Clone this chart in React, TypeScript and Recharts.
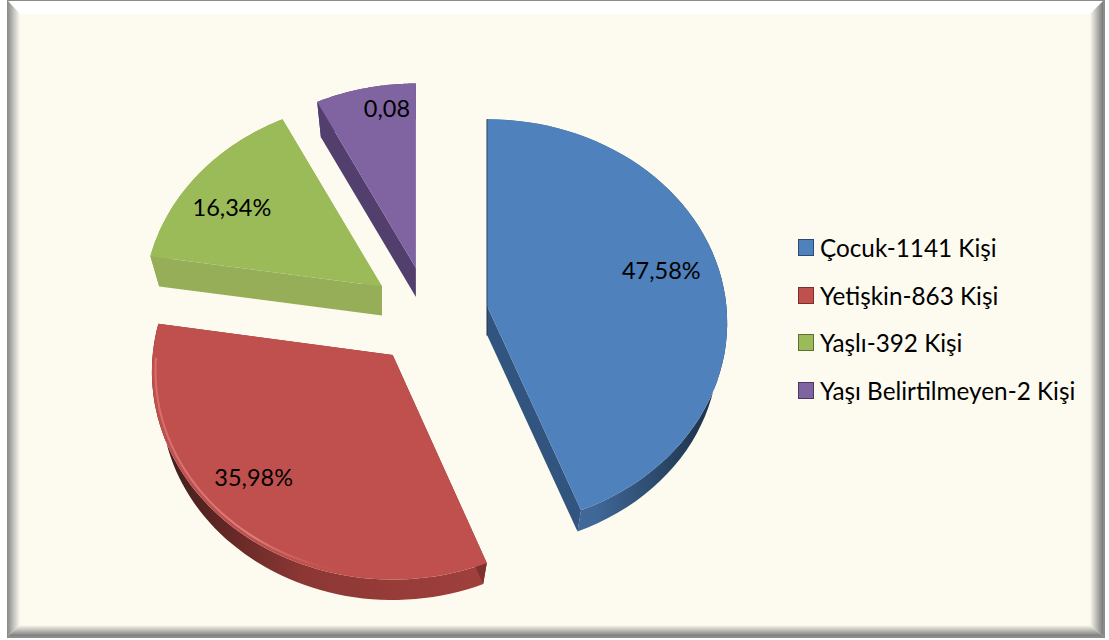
import React from 'react';
import { PieChart, Pie, Cell, Legend } from 'recharts';

const CATEGORIES = ['Çocuk-1141 Kişi', 'Yetişkin-863 Kişi', 'Yaşlı-392 Kişi', 'Yaşı Belirtilmeyen-2 Kişi'];
// the last slice is plotted far larger than its label says, same as the source chart
const PLOTTED_VALUES = [47.58, 35.98, 16.34, 8];
const VALUE_LABELS = ['47,58%', '35,98%', '16,34%', '0,08'];

const TOP_COLORS = ['#4F81BD', '#C0504D', '#9BBB59', '#8064A2'];
const LEGEND_BORDERS = ['#2B4A70', '#7A2F2D', '#5C7232', '#4A3863'];
const START_WALLS = ['#14202F', '#7E3230', '#96AE57', '#533F6E'];
const END_WALLS = ['#31557F', '#7E3230', '#96AE57', '#1E1729'];
const BG = '#FDFBF0';

// fake 3d: flat unit circle -> screen
const EXPLODE = 0.245;
const PERSPECTIVE = 0.081;
const SQUASH = 203 / 240;
const DEPTH = 29;
const BOTTOM_SCALE = 0.962;
const LABEL_OFFSETS = [
  [174, -36],
  [-139, 122],
  [-150, -80],
  [-29, -160],
];

type Pt = { x: number; y: number };

function toPath(points: Pt[], close = true) {
  return points.map((p, i) => `${i ? 'L' : 'M'}${p.x.toFixed(1)},${p.y.toFixed(1)}`).join(' ') + (close ? ' Z' : '');
}

function Slice3D(props: any) {
  const { cx, cy, outerRadius: r, startAngle, endAngle, index } = props;
  // recharts angles run counter clockwise from 3 o'clock
  const a0 = ((90 - startAngle) * Math.PI) / 180;
  const a1 = ((90 - endAngle) * Math.PI) / 180;
  const mid = (a0 + a1) / 2;
  const ox = EXPLODE * Math.sin(mid);
  const oy = -EXPLODE * Math.cos(mid);

  const apex = {
    x: cx + r * ox,
    y: cy + (r * SQUASH * oy) / (1 - PERSPECTIVE * oy),
  };
  const onRim = (a: number, scale = 1): Pt => {
    const ux = Math.sin(a) * scale;
    const uy = -Math.cos(a) * scale;
    return {
      x: apex.x + (r * ux) / (1 - PERSPECTIVE * (uy + Math.min(oy, 0))),
      y: apex.y + (r * SQUASH * uy) / (1 - PERSPECTIVE * (uy + oy)),
    };
  };
  const steps = 60;
  const arc: Pt[] = [];
  for (let i = 0; i <= steps; i++) arc.push(onRim(a0 + ((a1 - a0) * i) / steps));

  const lower = (p: Pt): Pt => ({
    x: apex.x + (p.x - apex.x) * BOTTOM_SCALE,
    y: apex.y + (p.y - apex.y) * BOTTOM_SCALE + DEPTH,
  });
  const arcLow = arc.map(lower);
  const apexLow = lower(apex);

  const rimPath = toPath([...arc, ...[...arcLow].reverse()]);
  const startWall = toPath([apex, arc[0], arcLow[0], apexLow]);
  const endWall = toPath([apex, arc[steps], arcLow[steps], apexLow]);
  const top = toPath([apex, ...arc]);
  const [dx, dy] = LABEL_OFFSETS[index];

  // bevel glint just inside the rim, only the red slice shows one in the source
  const glint: Pt[] = [];
  if (index === 1) {
    for (let i = 0; i <= 40; i++) {
      const a = a0 + (a1 - a0) * (0.25 + (0.67 * i) / 40);
      glint.push(onRim(a, 0.985));
    }
  }

  return (
    <g>
      <path d={rimPath} fill={`url(#rim${index})`} />
      <path d={startWall} fill={START_WALLS[index]} stroke={index === 0 ? START_WALLS[0] : 'none'} strokeWidth={1.5} />
      <path d={endWall} fill={END_WALLS[index]} />
      <path d={top} fill={TOP_COLORS[index]} />
      {glint.length > 0 && <path d={toPath(glint, false)} fill="none" stroke="url(#glint)" strokeWidth={2} />}
      <text
        x={apex.x + dx}
        y={apex.y + dy}
        textAnchor="middle"
        dominantBaseline="central"
        fontFamily="Lato, sans-serif"
        fontSize={23.5}
        fill="#000"
      >
        {VALUE_LABELS[index]}
      </text>
    </g>
  );
}

function LegendList() {
  return (
    <div style={{ fontFamily: 'Lato, sans-serif', fontSize: 24.3, color: '#000' }}>
      {CATEGORIES.map((name, i) => (
        <div key={name} style={{ display: 'flex', alignItems: 'center', height: 47.5, whiteSpace: 'nowrap' }}>
          <span
            style={{
              display: 'inline-block',
              width: 14,
              height: 15,
              marginRight: 6,
              background: TOP_COLORS[i],
              border: `1px solid ${LEGEND_BORDERS[i]}`,
            }}
          />
          {name}
        </div>
      ))}
    </div>
  );
}

function Frame() {
  const W = 1109;
  const H = 640;
  return (
    <g>
      <rect x={0} y={0} width={W} height={H} fill="#fff" />
      <rect x={7} y={0} width={1098} height={638} fill="#8c8c8c" />
      <rect x={8} y={1} width={1095} height={635} fill={BG} />
      <polygon points="8,1 1103,1 1090,14 20,14" fill="#fff" />
      <polygon points="8,1 20,14 20,625 8,636" fill="url(#bevelLeft)" />
      <polygon points="1103,1 1090,14 1090,625 1103,636" fill="url(#bevelRight)" />
      <polygon points="8,636 20,625 1090,625 1103,636" fill="url(#bevelBottom)" />
    </g>
  );
}

const chartData = CATEGORIES.map((name, i) => ({ name, value: PLOTTED_VALUES[i] }));

export default function App() {
  return (
    <div style={{ position: 'absolute', left: 0, top: 0, width: 1109, height: 640 }}>
      <PieChart width={1109} height={640} margin={{ top: 0, right: 0, bottom: 0, left: 0 }}>
        <defs>
          <linearGradient id="bevelLeft" x1="0" y1="0" x2="1" y2="0">
            <stop offset="0" stopColor="#8f8f8f" />
            <stop offset="1" stopColor={BG} />
          </linearGradient>
          <linearGradient id="bevelRight" x1="0" y1="0" x2="1" y2="0">
            <stop offset="0" stopColor={BG} />
            <stop offset="1" stopColor="#7a7a7a" />
          </linearGradient>
          <linearGradient id="bevelBottom" x1="0" y1="0" x2="0" y2="1">
            <stop offset="0" stopColor={BG} />
            <stop offset="1" stopColor="#7a7a7a" />
          </linearGradient>
          <linearGradient id="rim0" x1="0" y1="0" x2="1" y2="0">
            <stop offset="0" stopColor="#45709F" />
            <stop offset="0.45" stopColor="#3F6797" />
            <stop offset="0.85" stopColor="#223A55" />
            <stop offset="1" stopColor="#1B2E44" />
          </linearGradient>
          <linearGradient id="rim1" x1="0" y1="0" x2="1" y2="0">
            <stop offset="0" stopColor="#3A1C1B" />
            <stop offset="0.2" stopColor="#5E2624" />
            <stop offset="0.45" stopColor="#8C3734" />
            <stop offset="1" stopColor="#A0403D" />
          </linearGradient>
          <linearGradient id="rim2" x1="0" y1="0" x2="1" y2="0">
            <stop offset="0" stopColor="#96AE57" />
            <stop offset="1" stopColor="#96AE57" />
          </linearGradient>
          <linearGradient id="rim3" x1="0" y1="0" x2="1" y2="0">
            <stop offset="0" stopColor="#533F6E" />
            <stop offset="1" stopColor="#533F6E" />
          </linearGradient>
          <linearGradient id="glint" x1="0" y1="0" x2="1" y2="0">
            <stop offset="0" stopColor="#D8726E" stopOpacity={0.9} />
            <stop offset="0.5" stopColor="#E08480" stopOpacity={0.9} />
            <stop offset="1" stopColor="#C0504D" stopOpacity={0} />
          </linearGradient>
        </defs>
        <Frame />
        <Pie
          data={chartData}
          dataKey="value"
          nameKey="name"
          cx={429.5}
          cy={315.5}
          outerRadius={240}
          startAngle={90}
          endAngle={-270}
          stroke="none"
          shape={Slice3D}
          isAnimationActive={false}
        >
          {chartData.map((d, i) => (
            <Cell key={d.name} fill={TOP_COLORS[i]} />
          ))}
        </Pie>
        <Legend
          content={<LegendList />}
          layout="vertical"
          wrapperStyle={{ position: 'absolute', left: 798, top: 224, width: 300 }}
        />
      </PieChart>
    </div>
  );
}
